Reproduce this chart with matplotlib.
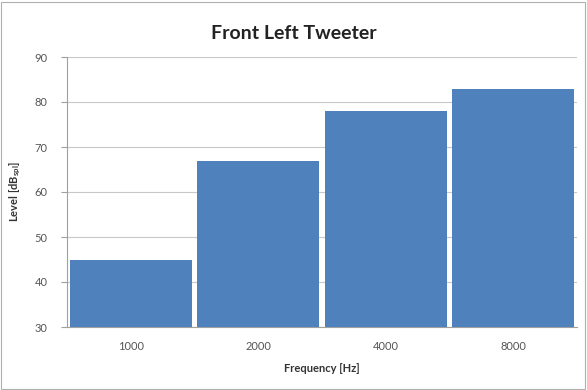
import numpy as np
import matplotlib
matplotlib.use("Agg")
from matplotlib import pyplot as plt
from matplotlib.patches import Rectangle

freqs = ["1000", "2000", "4000", "8000"]
levels = [45, 67, 78, 83]
yticks = [30, 40, 50, 60, 70, 80, 90]

plt.rcParams['font.family'] = ['Lato', 'DejaVu Sans']

fig = plt.figure(figsize=(5.87, 3.90), dpi=100)
ax = fig.add_axes([67/587, 63/390, 510/587, 270/390])

x = np.arange(len(freqs))
ax.bar(x, [v - 30 for v in levels], bottom=30, width=0.96, color='#4f81bd', zorder=3)
ax.set_xlim(-0.5, len(freqs) - 0.5)
ax.set_ylim(30, 90)
ax.set_yticks(yticks)
ax.set_xticks(x)
ax.set_xticklabels(freqs)
ax.grid(axis='y', color='#c8c8c8', linewidth=0.8, zorder=0)

for s in ['top', 'right']:
    ax.spines[s].set_visible(False)
for s in ['left', 'bottom']:
    ax.spines[s].set_color('#a0a0a0')
    ax.spines[s].set_linewidth(0.8)
ax.tick_params(axis='y', colors='#a0a0a0', labelcolor='#555555', labelsize=8, length=4, pad=10)
ax.tick_params(axis='x', colors='#a0a0a0', labelcolor='#555555', labelsize=8, length=0, pad=10)

ax.set_xlabel('Frequency [Hz]', fontsize=8, fontweight='bold', color='#333333', labelpad=8)
ax.set_ylabel(r'Level [dB$_\mathregular{spl}$]', fontsize=8, fontweight='bold', color='#333333', labelpad=8)
fig.text(0.5, 0.915, 'Front Left Tweeter', ha='center', va='center', fontsize=14, fontweight='bold', color='#222222')

fig.patches.append(Rectangle((0.002, 0.003), 0.994, 0.992, transform=fig.transFigure,
                             fill=False, edgecolor='#b0b0b0', linewidth=0.8))

fig.savefig('out.png', dpi=100)
